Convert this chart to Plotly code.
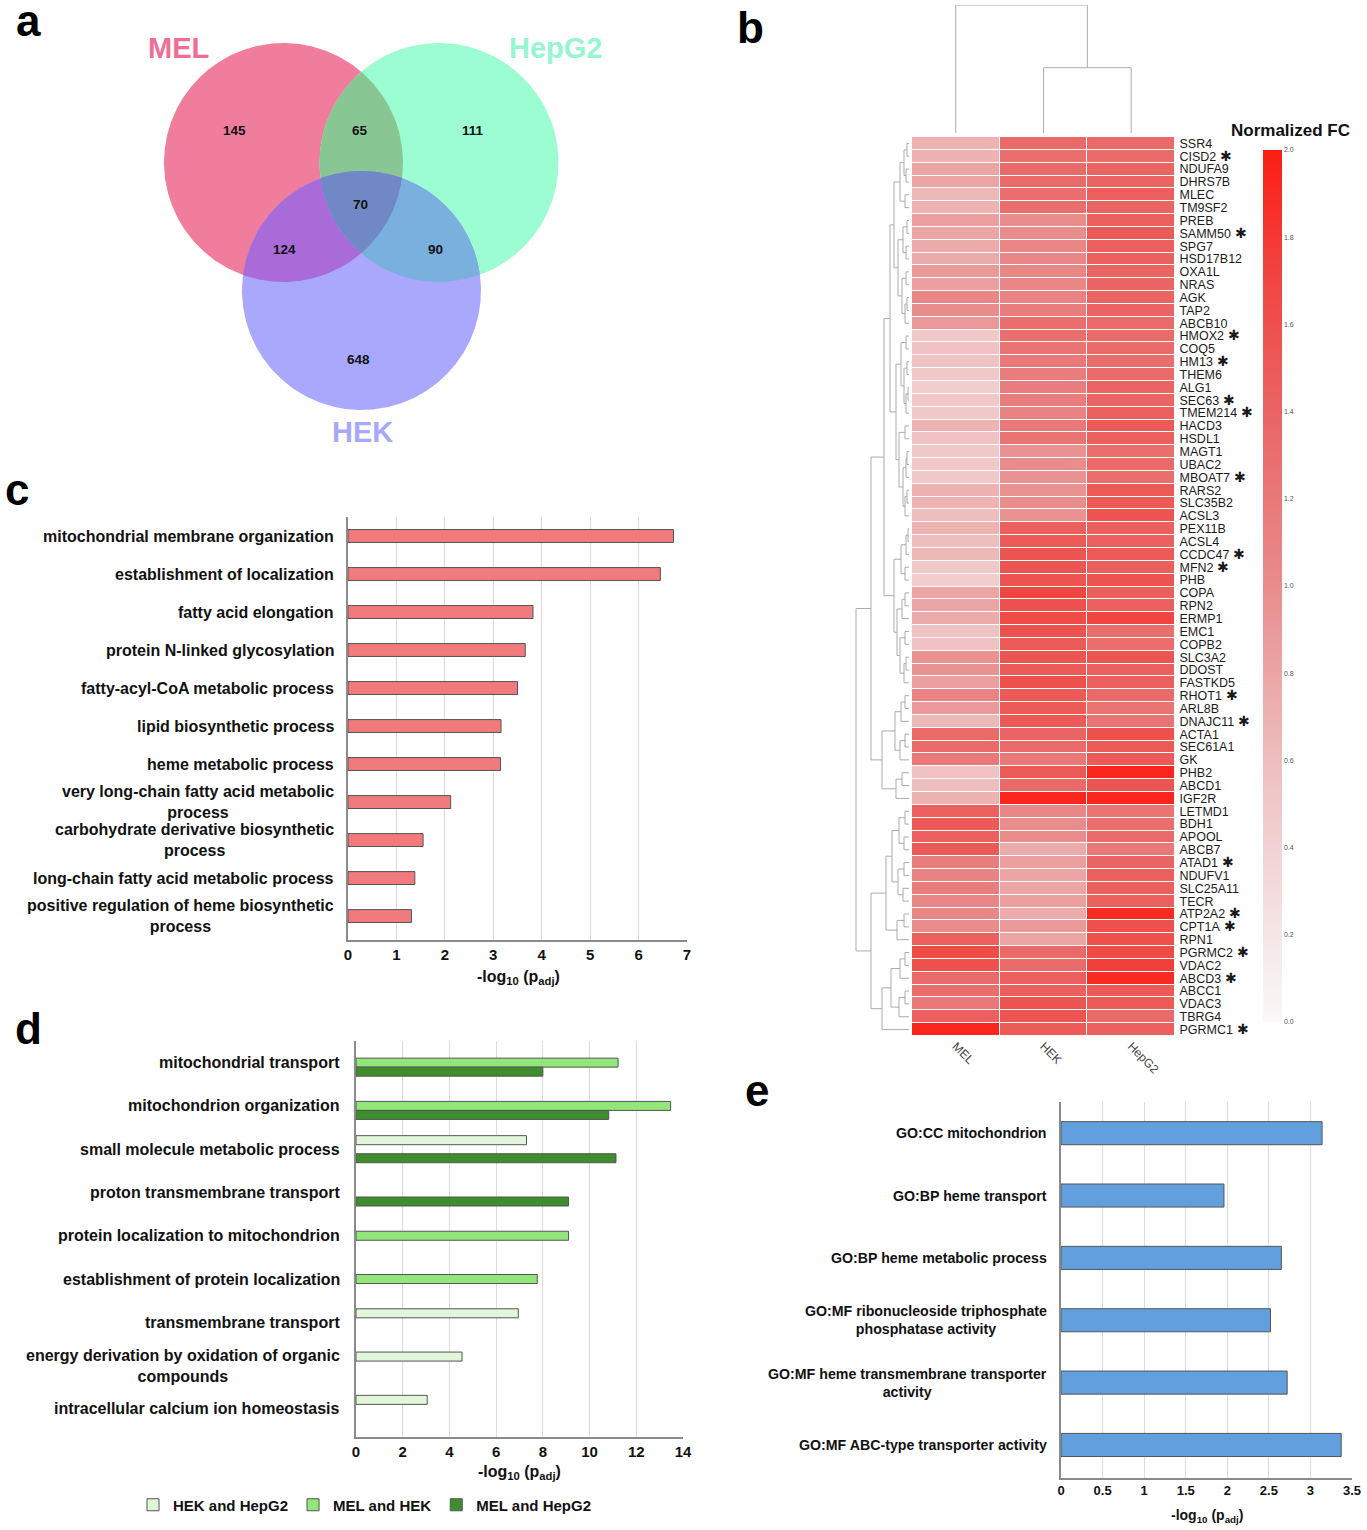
import numpy as np
import plotly.graph_objects as go

W, H = 1367, 1530
def PX(x): return x / W
def PY(y): return 1 - y / H

ARIAL = "Arial, Liberation Sans, sans-serif"

# ------------------------------------------------------------------ DATA
# (a) Venn
venn_sets = ["MEL", "HepG2", "HEK"]
venn_set_colors = ["#EE6E96", "#97F5CF", "#A8A8FA"]
venn_regions = [("MEL",), ("HepG2",), ("HEK",), ("MEL", "HepG2"), ("MEL", "HEK"), ("HepG2", "HEK"), ("MEL", "HepG2", "HEK")]
venn_counts = [145, 111, 648, 65, 124, 90, 70]

# (b) heatmap
genes = ["SSR4", "CISD2", "NDUFA9", "DHRS7B", "MLEC", "TM9SF2", "PREB", "SAMM50", "SPG7", "HSD17B12",
         "OXA1L", "NRAS", "AGK", "TAP2", "ABCB10", "HMOX2", "COQ5", "HM13", "THEM6", "ALG1",
         "SEC63", "TMEM214", "HACD3", "HSDL1", "MAGT1", "UBAC2", "MBOAT7", "RARS2", "SLC35B2", "ACSL3",
         "PEX11B", "ACSL4", "CCDC47", "MFN2", "PHB", "COPA", "RPN2", "ERMP1", "EMC1", "COPB2",
         "SLC3A2", "DDOST", "FASTKD5", "RHOT1", "ARL8B", "DNAJC11", "ACTA1", "SEC61A1", "GK", "PHB2",
         "ABCD1", "IGF2R", "LETMD1", "BDH1", "APOOL", "ABCB7", "ATAD1", "NDUFV1", "SLC25A11", "TECR",
         "ATP2A2", "CPT1A", "RPN1", "PGRMC2", "VDAC2", "ABCD3", "ABCC1", "VDAC3", "TBRG4", "PGRMC1"]
starred = ["CISD2", "SAMM50", "HMOX2", "HM13", "SEC63", "TMEM214", "MBOAT7", "CCDC47", "MFN2", "RHOT1",
           "DNAJC11", "ATAD1", "ATP2A2", "CPT1A", "PGRMC2", "ABCD3", "PGRMC1"]
cell_lines = ["MEL", "HEK", "HepG2"]
fc_mel = [0.70, 0.70, 0.80, 0.80, 0.65, 0.70, 0.85, 0.80, 0.75, 0.75,
          0.90, 0.85, 1.05, 1.00, 0.90, 0.50, 0.55, 0.55, 0.50, 0.45,
          0.50, 0.50, 0.70, 0.55, 0.50, 0.50, 0.50, 0.70, 0.70, 0.60,
          0.70, 0.60, 0.65, 0.50, 0.45, 0.80, 0.80, 0.75, 0.55, 0.55,
          0.95, 0.95, 0.85, 1.10, 0.90, 0.65, 1.35, 1.35, 1.20, 0.55,
          0.60, 0.70, 1.45, 1.50, 1.45, 1.50, 1.15, 1.10, 1.15, 1.05,
          1.05, 1.00, 1.45, 1.65, 1.60, 1.35, 1.30, 1.20, 1.45, 1.95]
fc_hek = [1.35, 1.30, 1.35, 1.35, 1.30, 1.30, 1.00, 1.00, 1.05, 1.05,
          1.05, 1.05, 1.10, 1.15, 1.30, 1.30, 1.25, 1.20, 1.15, 1.15,
          1.15, 1.10, 1.20, 1.25, 0.95, 1.00, 0.95, 0.95, 1.00, 0.95,
          1.45, 1.50, 1.55, 1.55, 1.55, 1.70, 1.60, 1.65, 1.60, 1.50,
          1.55, 1.50, 1.60, 1.50, 1.50, 1.50, 1.40, 1.35, 1.20, 1.50,
          1.35, 1.95, 1.05, 1.00, 1.00, 0.75, 0.85, 0.80, 0.80, 0.85,
          0.75, 0.90, 0.80, 1.35, 1.35, 1.45, 1.45, 1.55, 1.55, 1.50]
fc_hepg2 = [1.35, 1.35, 1.40, 1.40, 1.45, 1.40, 1.45, 1.50, 1.45, 1.45,
            1.40, 1.40, 1.40, 1.40, 1.35, 1.35, 1.35, 1.30, 1.35, 1.40,
            1.40, 1.45, 1.50, 1.45, 1.30, 1.35, 1.30, 1.50, 1.50, 1.55,
            1.45, 1.45, 1.50, 1.45, 1.55, 1.45, 1.45, 1.70, 1.30, 1.30,
            1.55, 1.45, 1.45, 1.35, 1.25, 1.25, 1.60, 1.50, 1.50, 1.95,
            1.55, 1.95, 1.25, 1.30, 1.35, 1.20, 1.40, 1.45, 1.45, 1.45,
            1.90, 1.60, 1.60, 1.65, 1.75, 1.90, 1.50, 1.50, 1.35, 1.45]
colorbar_ticks = [0.0, 0.2, 0.4, 0.6, 0.8, 1.0, 1.2, 1.4, 1.6, 1.8, 2.0]

# row dendrogram: [height, left, right], leaves = row index
_U1 = [15, [9, [5, [2, 0, 1], [3, 2, 3]], [4, 4, 5]],
       [11, [6, [2, 6, 7], [3, 8, 9]], [7, [3, 10, 11], [4, [2, 12, 13], 14]]]]
_U2 = [13, [8, [3, 15, 16], [5, [2, 17, 18], [3, [1, 19, 20], 21]]],
       [10, [4, 22, 23], [6, [3, [2, 24, 25], 26], [4, [2, 27, 28], 29]]]]
_A1l = [15, [8, [3, [1, 30, 31], 32], [4, 33, 34]],
        [12, [7, [4, 35, 36], 37], [9, [4, 38, 39], [5, [3, 40, 41], 42]]]]
_A2 = [27, [14, [8, [4, 43, 44], 45], [9, [4, 46, 47], 48]], [13, [7, 49, 50], 51]]
_B1 = [23, [17, [10, [4, 52, 53], [5, 54, 55]], [11, [5, 56, 57], [6, 58, 59]]], [12, [5, 60, 61], 62]]
_B2 = [27, [18, [9, [4, 63, 64], 65], [10, [4, 66, 67], 68]], 69]
row_tree = [53, [38, [25, [19, _U1, _U2], _A1l], _A2], [38, _B1, _B2]]
# column dendrogram
col_tree = [1.0, 0, [0.51, 1, 2]]

# (c)
c_terms = ["mitochondrial membrane organization", "establishment of localization", "fatty acid elongation",
           "protein N-linked glycosylation", "fatty-acyl-CoA metabolic process", "lipid biosynthetic process",
           "heme metabolic process", "very long-chain fatty acid metabolic<br>process",
           "carbohydrate derivative biosynthetic<br>process", "long-chain fatty acid metabolic process",
           "positive regulation of heme biosynthetic<br>process"]
c_values = [6.72, 6.45, 3.82, 3.66, 3.50, 3.16, 3.15, 2.12, 1.55, 1.38, 1.31]

# (d)
d_terms = ["mitochondrial transport", "mitochondrion organization", "small molecule metabolic process",
           "proton transmembrane transport", "protein localization to mitochondrion",
           "establishment of protein localization", "transmembrane transport",
           "energy derivation by oxidation of organic<br>compounds", "intracellular calcium ion homeostasis"]
d_series = ["HEK and HepG2", "MEL and HEK", "MEL and HepG2"]
d_hek_hepg2 = [None, None, 7.30, None, None, None, 6.95, 4.54, 3.05]
d_mel_hek = [11.22, 13.47, None, None, 9.10, 7.76, None, None, None]
d_mel_hepg2 = [8.00, 10.82, 11.13, 9.10, None, None, None, None, None]

# (e)
e_terms = ["GO:CC mitochondrion", "GO:BP heme transport", "GO:BP heme metabolic process",
           "GO:MF ribonucleoside triphosphate<br>phosphatase activity",
           "GO:MF heme transmembrane transporter<br>activity", "GO:MF ABC-type transporter activity"]
e_values = [3.14, 1.96, 2.65, 2.52, 2.72, 3.37]

# ------------------------------------------------------------------ FIGURE
fig = go.Figure()
annotations = []
NOHOVER = dict(hoverinfo="skip", showlegend=False)


def paper_text(x, y, text, size, color="#111", weight="bold", xanchor="center", family=ARIAL):
    return dict(x=PX(x), y=PY(y), xref="paper", yref="paper", xanchor=xanchor, yanchor="middle",
                text=text, showarrow=False, font=dict(family=family, size=size, color=color, weight=weight))


# ---------- (a) Venn: circles in a 1:1 pixel axis
circles = {"MEL": (283.5, 162.5, 119.5), "HepG2": (439.0, 162.5, 119.5), "HEK": (361.5, 290.5, 119.5)}
region_colors = {("MEL",): "#F07D9B", ("HepG2",): "#9CFCD2", ("HEK",): "#AAA8FC",
                 ("MEL", "HepG2"): "#88C794", ("MEL", "HEK"): "#A86BD8",
                 ("HepG2", "HEK"): "#7AB0DE", ("MEL", "HepG2", "HEK"): "#7089C6"}


def convex_region(names):
    t = np.linspace(0, 2 * np.pi, 1440, endpoint=False)
    pts = []
    for n in names:
        cx, cy, r = circles[n]
        xs, ys = cx + r * np.cos(t), cy + r * np.sin(t)
        m = np.ones_like(xs, dtype=bool)
        for o in names:
            if o != n:
                ox, oy, orr = circles[o]
                m &= (xs - ox) ** 2 + (ys - oy) ** 2 <= orr ** 2 + 1e-6
        pts.append(np.c_[xs[m], ys[m]])
    P = np.vstack(pts)
    c = P.mean(axis=0)
    P = P[np.argsort(np.arctan2(P[:, 1] - c[1], P[:, 0] - c[0]))]
    return np.vstack([P, P[:1]])


for reg in venn_regions:
    P = convex_region(reg)
    fig.add_trace(go.Scatter(x=P[:, 0], y=P[:, 1], mode="lines", fill="toself", line=dict(width=0),
                             fillcolor=region_colors[reg], xaxis="x", yaxis="y", **NOHOVER))

region_pos = {("MEL",): (234, 130), ("HepG2",): (473, 130), ("HEK",): (358, 359),
              ("MEL", "HepG2"): (360, 130), ("MEL", "HEK"): (284, 249),
              ("HepG2", "HEK"): (435, 249), ("MEL", "HepG2", "HEK"): (360, 204)}
for reg, cnt in zip(venn_regions, venn_counts):
    x, y = region_pos[reg]
    annotations.append(dict(x=x, y=y, xref="x", yref="y", xanchor="center", yanchor="middle",
                            text=f"<b>{cnt}</b>", showarrow=False,
                            font=dict(family=ARIAL, size=13.5, color="#111")))
set_label_pos = {"MEL": (178, 48), "HepG2": (555, 48), "HEK": (362, 432)}
for s, col in zip(venn_sets, venn_set_colors):
    x, y = set_label_pos[s]
    annotations.append(dict(x=x, y=y, xref="x", yref="y", xanchor="center", yanchor="middle",
                            text=f"<b>{s}</b>", showarrow=False,
                            font=dict(family=ARIAL, size=29, color=col)))

# ---------- (b) heatmap
z = [[a, b, c] for a, b, c in zip(fc_mel, fc_hek, fc_hepg2)]
colorscale = [[0.0, "rgb(250,248,248)"], [0.1, "rgb(245,230,230)"], [0.3, "rgb(238,190,190)"],
              [0.5, "rgb(233,140,140)"], [0.7, "rgb(234,100,100)"], [0.85, "rgb(240,70,65)"],
              [1.0, "rgb(252,30,20)"]]
fig.add_trace(go.Heatmap(
    z=z, x=list(range(len(cell_lines))), y=list(range(len(genes))), zmin=0, zmax=2,
    colorscale=colorscale, xgap=1, ygap=1, xaxis="x2", yaxis="y2", hoverinfo="skip",
    colorbar=dict(x=PX(1263), xanchor="left", y=PY(586), yanchor="middle", len=872, lenmode="pixels",
                  thickness=19, thicknessmode="pixels", outlinewidth=0, xpad=0, ypad=0, ticks="",
                  tickvals=colorbar_ticks, ticktext=[f"{v:.1f}" for v in colorbar_ticks],
                  tickfont=dict(family=ARIAL, size=7, color="#555"))))

gene_text = [g + ("<span style='font-size:14px'> ✱</span>" if g in starred else "") for g in genes]


def dendro(node, segs):
    if isinstance(node, int):
        return float(node), 0.0
    h, l, r = node
    pl, hl = dendro(l, segs)
    pr, hr = dendro(r, segs)
    segs.append([(hl, pl), (h, pl), (h, pr), (hr, pr)])
    return (pl + pr) / 2, h


segs = []
dendro(row_tree, segs)
dx, dy = [], []
for s in segs:
    for hh, pp in s:
        dx.append(hh); dy.append(pp)
    dx.append(None); dy.append(None)
fig.add_trace(go.Scatter(x=dx, y=dy, mode="lines", line=dict(color="#ababab", width=1),
                         xaxis="x3", yaxis="y2", **NOHOVER))

segs = []
dendro(col_tree, segs)
tx, ty = [], []
for s in segs:
    for hh, pp in s:
        tx.append(pp); ty.append(hh)
    tx.append(None); ty.append(None)
fig.add_trace(go.Scatter(x=tx, y=ty, mode="lines", line=dict(color="#ababab", width=1),
                         xaxis="x2", yaxis="y3", **NOHOVER))

annotations.append(paper_text(1290, 130, "Normalized FC", 17))

# ---------- (c)
BAR_LINE = dict(color="#555", width=1)
fig.add_trace(go.Bar(x=c_values, y=list(range(len(c_terms))), orientation="h", width=0.34,
                     marker=dict(color="#F07A7C", line=BAR_LINE), xaxis="x4", yaxis="y4", **NOHOVER))
for i, t in enumerate(c_terms):
    annotations.append(dict(x=PX(336), y=i, xref="paper", yref="y4", xanchor="right", yanchor="middle",
                            align="center", text=t, showarrow=False,
                            font=dict(family=ARIAL, size=16, color="#111", weight="bold")))

# ---------- (d)
d_colors = ["#E2F7D9", "#92E67A", "#3E8E2E"]
d_offsets = [-0.3125, -0.1042, 0.1042]
for name, vals, col, off in zip(d_series, [d_hek_hepg2, d_mel_hek, d_mel_hepg2], d_colors, d_offsets):
    fig.add_trace(go.Bar(x=vals, y=list(range(len(d_terms))), orientation="h", width=0.2083, offset=off,
                         name=name, marker=dict(color=col, line=BAR_LINE), xaxis="x5", yaxis="y5",
                         hoverinfo="skip", showlegend=True))
for i, t in enumerate(d_terms):
    annotations.append(dict(x=PX(342), y=i, xref="paper", yref="y5", xanchor="right", yanchor="middle",
                            align="center", text=t, showarrow=False,
                            font=dict(family=ARIAL, size=16, color="#111", weight="bold")))

# ---------- (e)
fig.add_trace(go.Bar(x=e_values, y=list(range(len(e_terms))), orientation="h", width=0.37,
                     marker=dict(color="#629FDF", line=BAR_LINE), xaxis="x6", yaxis="y6", **NOHOVER))
for i, t in enumerate(e_terms):
    annotations.append(dict(x=PX(1049), y=i, xref="paper", yref="y6", xanchor="right", yanchor="middle",
                            align="center", text=t, showarrow=False,
                            font=dict(family=ARIAL, size=14.2, color="#111", weight="bold")))

# axis titles
XT = "-log<sub>10</sub> (p<sub>adj</sub>)"
for x, y, sz in [(518, 978, 16), (519, 1472, 16), (1207, 1516, 14)]:
    annotations.append(paper_text(x, y, XT, sz))

# panel letters
for L, x, y in [("a", 28, 21), ("b", 750, 27), ("c", 17, 490), ("d", 28, 1028), ("e", 757, 1090)]:
    annotations.append(paper_text(x, y, L, 44, color="#000"))

# ------------------------------------------------------------------ LAYOUT
HID = dict(visible=False, showgrid=False, zeroline=False)


def bar_x(domain, rng, dtick, size):
    return dict(domain=domain, range=rng, dtick=dtick, showgrid=True, gridcolor="#dcdcdc", gridwidth=1,
                showline=True, linecolor="#8a8a8a", linewidth=1.5, zeroline=False, ticks="",
                tickfont=dict(family=ARIAL, size=size, color="#111", weight="bold"), fixedrange=True,
                automargin=False)


def bar_y(domain, rng):
    return dict(domain=domain, range=rng, showticklabels=False, showgrid=False, zeroline=False,
                showline=True, linecolor="#8a8a8a", linewidth=1.5, ticks="", automargin=False)


fig.update_layout(
    width=W, height=H, margin=dict(l=0, r=0, t=0, b=0, autoexpand=False),
    paper_bgcolor="white", plot_bgcolor="white",
    barmode="overlay", hovermode=False,
    xaxis=dict(domain=[0, PX(620)], range=[0, 620], **HID),
    yaxis=dict(domain=[PY(460), 1], range=[460, 0], **HID),
    xaxis2=dict(domain=[PX(912), PX(1175)], range=[-0.5, 2.5], anchor="y2", tickvals=[0, 1, 2],
                ticktext=cell_lines, tickangle=45, ticks="", showgrid=False, zeroline=False, showline=False,
                tickfont=dict(family=ARIAL, size=12, color="#444"), automargin=False),
    yaxis2=dict(domain=[PY(1036), PY(137)], range=[len(genes) - 0.5, -0.5], anchor="x2", side="right",
                tickvals=list(range(len(genes))), ticktext=gene_text, ticks="outside", ticklen=1,
                tickcolor="rgba(0,0,0,0)", showgrid=False, automargin=False,
                zeroline=False, showline=False, tickfont=dict(family=ARIAL, size=12.5, color="#1a1a1a")),
    xaxis3=dict(domain=[PX(850), PX(909)], range=[59, 0], anchor="y2", **HID),
    yaxis3=dict(domain=[PY(133), PY(5)], range=[0, 1], anchor="x2", **HID),
    xaxis4=dict(anchor="y4", **bar_x([PX(348), PX(687)], [0, 7], 1, 15)),
    yaxis4=dict(anchor="x4", **bar_y([PY(940), PY(517)], [10.63, -0.5])),
    xaxis5=dict(anchor="y5", **bar_x([PX(356), PX(683)], [0, 14], 2, 15)),
    yaxis5=dict(anchor="x5", **bar_y([PY(1437), PY(1041)], [8.65, -0.5])),
    xaxis6=dict(anchor="y6", **bar_x([PX(1061), PX(1352)], [0, 3.5], 0.5, 13)),
    yaxis6=dict(anchor="x6", **bar_y([PY(1478), PY(1102)], [5.53, -0.5])),
    legend=dict(orientation="h", x=PX(365), xanchor="center", y=PY(1505), yanchor="middle",
                font=dict(family=ARIAL, size=15, color="#111", weight="bold"), bgcolor="rgba(0,0,0,0)",
                itemwidth=30, tracegroupgap=0),
    annotations=annotations,
)

fig.write_html("out.html")
